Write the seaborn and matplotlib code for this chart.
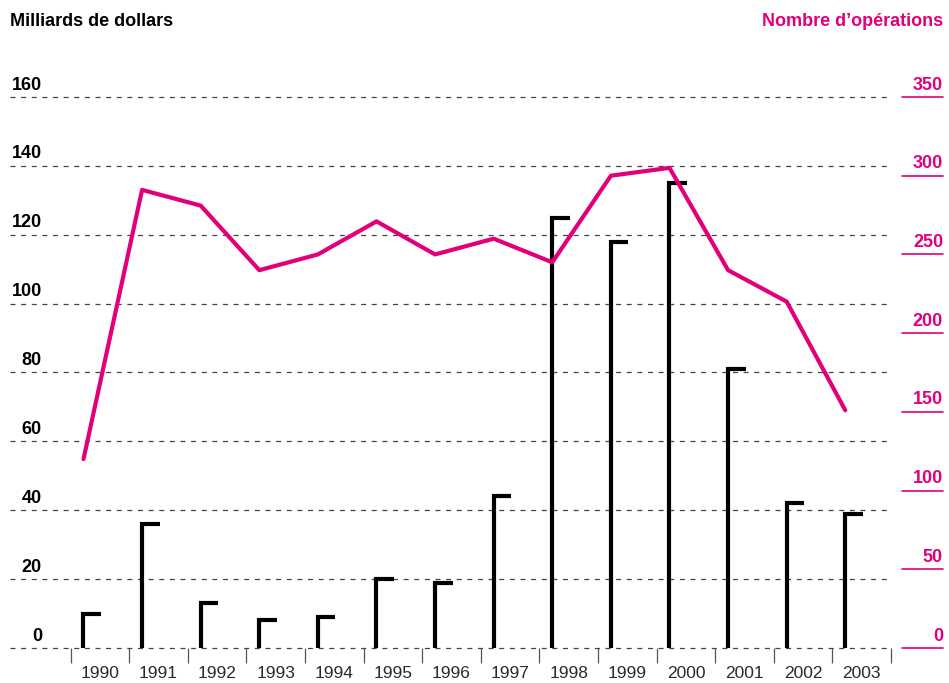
import matplotlib.pyplot as plt
import numpy as np
import pandas as pd
import seaborn as sns

YEARS = ["1990", "1991", "1992", "1993", "1994", "1995", "1996",
         "1997", "1998", "1999", "2000", "2001", "2002", "2003"]
AMOUNTS = [10, 36, 13, 8, 9, 20, 19, 44, 125, 118, 135, 81, 42, 39]
DEALS = [120, 291, 281, 240, 250, 271, 250, 260, 245, 300, 305, 240, 220, 151]
LEFT_TICKS = [0, 20, 40, 60, 80, 100, 120, 140, 160]
RIGHT_TICKS = [0, 50, 100, 150, 200, 250, 300, 350]

MAGENTA = "#E2007A"
GRID = "#444444"

W, H = 949, 683
X0_PX, X1_PX = 10, 891
Y0_PX, Y160_PX = 648, 97


def main() -> None:
    sns.set_theme(style="white")
    plt.rcParams["font.family"] = ["Liberation Sans", "DejaVu Sans"]

    df = pd.DataFrame({"year": YEARS, "amount": AMOUNTS, "deals": DEALS})
    df["pos"] = np.arange(len(df))
    bar_off = -0.28
    cap_w = 0.30
    df["bx"] = df["pos"] + bar_off

    px_per_unit = (Y0_PX - Y160_PX) / 160
    ylo, yhi = -5, 162
    bottom_px = Y0_PX - ylo * px_per_unit
    top_px = Y0_PX - yhi * px_per_unit

    fig = plt.figure(figsize=(W / 100, H / 100), dpi=100)
    ax = fig.add_axes([X0_PX / W, (H - bottom_px) / H,
                       (X1_PX - X0_PX) / W, (bottom_px - top_px) / H])
    xl = -0.5 - (70.6 - X0_PX) / 58.6
    ax.set_xlim(xl, len(df) - 0.5)
    ax.set_ylim(ylo, yhi)

    # dashed grid lines
    for v in LEFT_TICKS:
        ax.axhline(v, color=GRID, lw=0.9, dashes=(4, 4.5), zorder=1)

    # bars drawn as vertical stem with a cap to the right
    for _, r in df.iterrows():
        ax.plot([r.bx, r.bx, r.bx + cap_w], [0, r.amount, r.amount],
                color="black", lw=3, solid_joinstyle="miter",
                solid_capstyle="butt", zorder=3)

    ax2 = ax.twinx()
    scale = 350 / 160
    ax2.set_ylim(ylo * scale, yhi * scale)
    sns.lineplot(data=df, x="bx", y="deals", ax=ax2, color=MAGENTA, lw=3,
                 zorder=4)

    for a in (ax, ax2):
        for s in a.spines.values():
            s.set_visible(False)
        a.set_xlabel("")
        a.set_ylabel("")
        a.set_yticks([])

    # category boundary ticks and year labels
    ax.set_xlim(xl, len(df) - 0.5)
    ax.spines["bottom"].set_visible(True)
    ax.spines["bottom"].set_position(("data", 0))
    ax.spines["bottom"].set_color("none")
    ax.set_xticks(df["pos"], df["year"])
    ax.set_xticks(np.arange(len(df) + 1) - 0.5, minor=True)
    ax.tick_params(axis="x", which="major", length=0, pad=13, labelsize=12.5,
                   colors="#2a2a2a", bottom=True, labelbottom=True)
    ax.tick_params(axis="x", which="minor", length=11, width=0.9,
                   color="#555555", direction="out", bottom=True)

    # left labels above grid lines
    for v in LEFT_TICKS:
        ax.annotate(str(v), xy=(32 / (X1_PX - X0_PX), v),
                    xycoords=ax.get_yaxis_transform(),
                    xytext=(0, 2.5), textcoords="offset points",
                    ha="right", va="bottom", fontsize=13,
                    fontweight="bold", color="black")

    # right labels with short magenta rules
    rx0 = (902 - X0_PX) / (X1_PX - X0_PX)
    rx1 = (943 - X0_PX) / (X1_PX - X0_PX)
    for v in RIGHT_TICKS:
        ax2.plot([rx0, rx1], [v, v], transform=ax2.get_yaxis_transform(),
                 color=MAGENTA, lw=1.2, clip_on=False)
        ax2.annotate(str(v), xy=(rx1, v), xycoords=ax2.get_yaxis_transform(),
                     xytext=(0, 2.5), textcoords="offset points",
                     ha="right", va="bottom", fontsize=13,
                     fontweight="bold", color=MAGENTA)

    fig.text(10 / W, 1 - 22 / H, "Milliards de dollars", ha="left",
             va="center", fontsize=13, fontweight="bold", color="black")
    fig.text(943 / W, 1 - 22 / H, "Nombre d\u2019opérations", ha="right",
             va="center", fontsize=13, fontweight="bold", color=MAGENTA)

    fig.savefig("out.png", dpi=100)
    plt.close(fig)


if __name__ == "__main__":
    main()
